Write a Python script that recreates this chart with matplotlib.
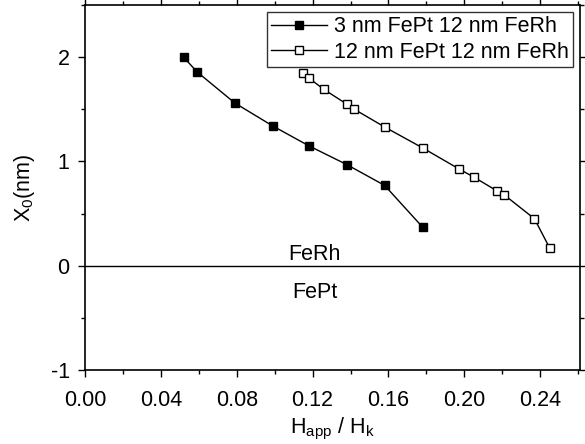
import matplotlib
matplotlib.use("Agg")
import matplotlib.pyplot as plt
from matplotlib.ticker import MultipleLocator, FormatStrFormatter

plt.rcParams['font.family'] = ['Liberation Sans', 'DejaVu Sans']
plt.rcParams['axes.unicode_minus'] = False

# 3 nm FePt / 12 nm FeRh
h_thin = [0.052, 0.059, 0.079, 0.099, 0.118, 0.138, 0.158, 0.178]
x0_thin = [2.00, 1.86, 1.56, 1.34, 1.15, 0.97, 0.77, 0.37]

# 12 nm FePt / 12 nm FeRh
h_thick = [0.115, 0.118, 0.126, 0.138, 0.142, 0.158, 0.178, 0.197,
           0.205, 0.217, 0.221, 0.237, 0.245]
x0_thick = [1.85, 1.80, 1.69, 1.55, 1.50, 1.33, 1.13, 0.93,
            0.85, 0.72, 0.68, 0.45, 0.17]

labels = ["3 nm FePt 12 nm FeRh", "12 nm FePt 12 nm FeRh"]

FS = 15.5

fig = plt.figure(figsize=(5.85, 4.44), dpi=100)
ax = fig.add_axes([85 / 585, 1 - 370 / 444, (580 - 85) / 585, (370 - 5) / 444])

ax.plot(h_thin, x0_thin, '-', color='black', lw=1.0, marker='s', ms=5.5,
        mfc='black', mec='black', label=labels[0])
ax.plot(h_thick, x0_thick, '-', color='black', lw=1.0, marker='s', ms=5.5,
        mfc='white', mec='black', mew=1.0, label=labels[1])

ax.axhline(0, color='black', lw=1.0)
ax.text(0.121, 0.01, "FeRh", ha='center', va='bottom', fontsize=FS)
ax.text(0.121, -0.16, "FePt", ha='center', va='top', fontsize=FS)

ax.set_xlim(0, 0.261)
ax.set_ylim(-1, 2.5)
ax.xaxis.set_major_locator(MultipleLocator(0.04))
ax.xaxis.set_minor_locator(MultipleLocator(0.02))
ax.xaxis.set_major_formatter(FormatStrFormatter('%.2f'))
ax.yaxis.set_major_locator(MultipleLocator(1))
ax.yaxis.set_minor_locator(MultipleLocator(0.5))

ax.tick_params(which='both', direction='out', top=True, right=True,
               labelsize=FS, width=1.0)
ax.tick_params(which='major', length=5)
ax.tick_params(which='minor', length=3)
ax.tick_params(axis='x', which='major', pad=9.5)
ax.tick_params(axis='y', which='major', pad=6)
for s in ax.spines.values():
    s.set_linewidth(1.2)

ax.set_xlabel(r"H$_{\mathregular{app}}$ / H$_{\mathregular{k}}$", fontsize=FS, labelpad=3.5)
ax.set_ylabel(r"X$_{\mathregular{0}}$(nm)", fontsize=FS, labelpad=10)

leg = ax.legend(loc='upper right', bbox_to_anchor=(0.986, 0.981), fontsize=FS,
                frameon=True, fancybox=False, edgecolor='black',
                handlelength=2.6, handletextpad=0.3, borderpad=0.2,
                labelspacing=0.2, borderaxespad=0.0)
leg.get_frame().set_linewidth(1.0)

fig.savefig("out.png", dpi=100)
